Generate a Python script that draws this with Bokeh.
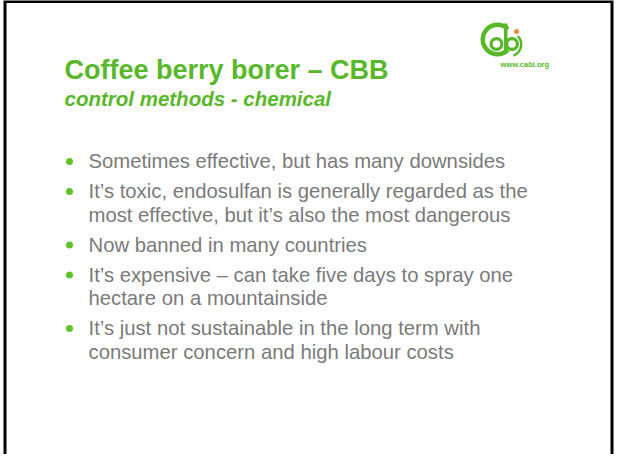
from bokeh.plotting import figure
from bokeh.models import Range1d
from bokeh.core.properties import value
from bokeh.embed import file_html
from bokeh.resources import INLINE

# ---- content ----
title = "Coffee berry borer \u2013 CBB"
subtitle = "control methods - chemical"
bullets = [
    ["Sometimes effective, but has many downsides"],
    ["It\u2019s toxic, endosulfan is generally regarded as the",
     "most effective, but it\u2019s also the most dangerous"],
    ["Now banned in many countries"],
    ["It\u2019s expensive \u2013 can take five days to spray one",
     "hectare on a mountainside"],
    ["It\u2019s just not sustainable in the long term with",
     "consumer concern and high labour costs"],
]
logo_url = "www.cabi.org"

# ---- styles ----
GREEN = "#58b82a"
DOT_GREEN = "#62c22c"
GRAY = "#7a7a7a"
ORANGE = "#f28a3a"
FONT = value("Liberation Sans")
CORR = 0.27  # baseline correction, in em

W, H = 614, 454
p = figure(width=W, height=H, output_backend="svg", toolbar_location=None,
           x_range=Range1d(8, 8 + W), y_range=Range1d(8 + H, 8),
           x_axis_type=None, y_axis_type=None, min_border=0,
           outline_line_color=None, background_fill_color="white",
           border_fill_color="white")
p.xgrid.visible = False
p.ygrid.visible = False

# slide frame
p.line([12.5, 12.5, 619.5, 619.5], [480, 9, 9, 480], line_color="black",
       line_width=3, line_join="miter")


def put_text(x, y, t, size, **kw):
    p.text(x=x, y=[v - CORR * size for v in y], text=t, text_font=FONT,
           text_font_size=f"{size}px", text_baseline="alphabetic", **kw)


# title
put_text([72], [85], [title], 27, text_font_style="bold", text_color=GREEN)
put_text([72], [112], [subtitle], 20.5, text_font_style="bold italic", text_color=GREEN)

# bullets
xs, ys, txt, dx, dy = [], [], [], [], []
yb = 174
for i, lines in enumerate(bullets):
    if i > 0:
        yb += 30
    dx.append(77)
    dy.append(yb - 5)
    for j, ln in enumerate(lines):
        if j > 0:
            yb += 23.5
        xs.append(96)
        ys.append(yb)
        txt.append(ln)
p.scatter(x=dx, y=dy, size=7, color=DOT_GREEN, line_color=None)
put_text(xs, ys, txt, 20.3, text_color=GRAY)

# logo (simplified CABI mark)
p.annular_wedge(x=[505], y=[47], inner_radius=12.5, outer_radius=17,
                inner_radius_units="screen", outer_radius_units="screen",
                start_angle=45, end_angle=315, start_angle_units="deg",
                end_angle_units="deg", color=GREEN, line_color=None)
p.annulus(x=[504], y=[51.5], inner_radius=3.8, outer_radius=7,
          inner_radius_units="screen", outer_radius_units="screen",
          color=GREEN, line_color=None)
p.quad(left=[511.5], right=[515], top=[31], bottom=[58.5], color=GREEN, line_color=None)
p.annulus(x=[519.5], y=[51.5], inner_radius=3.8, outer_radius=7,
          inner_radius_units="screen", outer_radius_units="screen",
          color=GREEN, line_color=None)
p.annular_wedge(x=[517], y=[52], inner_radius=10.5, outer_radius=13,
                inner_radius_units="screen", outer_radius_units="screen",
                start_angle=-70, end_angle=45, start_angle_units="deg",
                end_angle_units="deg", color=GREEN, line_color=None)
p.scatter(x=[524], y=[39], size=5, color=ORANGE, line_color=None)
put_text([508], [74], [logo_url], 7.5, text_font_style="bold", text_color=GREEN)

open("out.html", "w").write(file_html(p, INLINE))
